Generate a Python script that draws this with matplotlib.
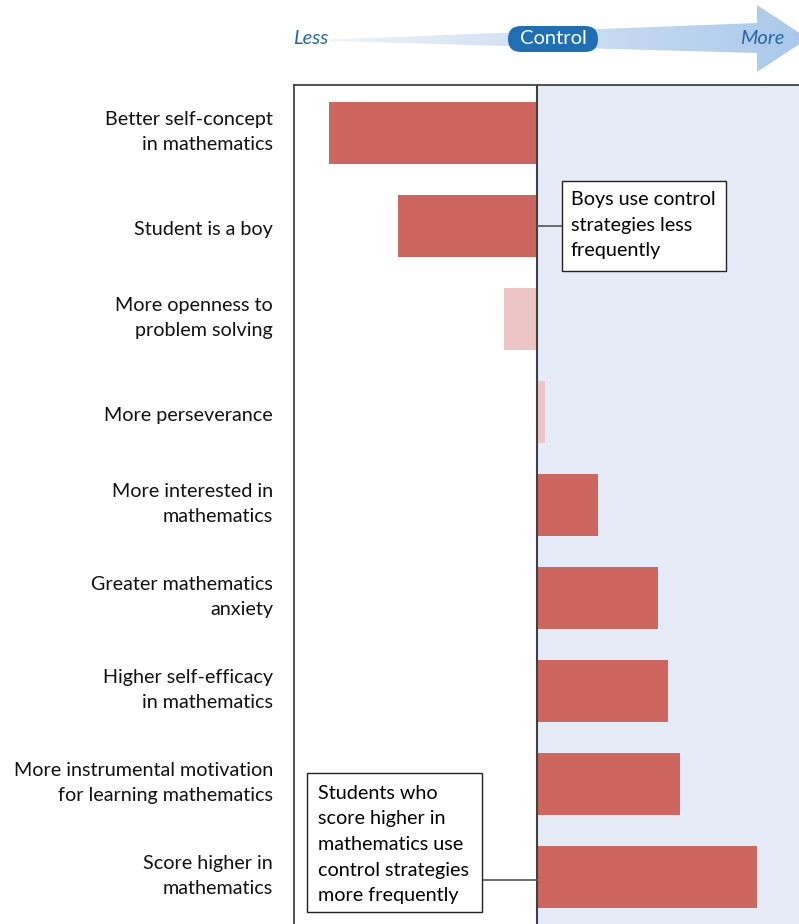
import numpy as np
import matplotlib.pyplot as plt
import matplotlib.transforms as mtransforms
from matplotlib.patches import Polygon, FancyBboxPatch, Rectangle
from matplotlib.colors import LinearSegmentedColormap

plt.rcParams['font.family'] = ['Lato', 'DejaVu Sans']

labels = ["Better self-concept\nin mathematics",
          "Student is a boy",
          "More openness to\nproblem solving",
          "More perseverance",
          "More interested in\nmathematics",
          "Greater mathematics\nanxiety",
          "Higher self-efficacy\nin mathematics",
          "More instrumental motivation\nfor learning mathematics",
          "Score higher in\nmathematics"]
values = [-2.08, -1.39, -0.33, 0.08, 0.61, 1.21, 1.31, 1.43, 2.20]
significant = [True, True, False, False, True, True, True, True, True]

dark_red = "#cc665f"
light_red = "#ecc5c4"
shade = "#e5ecf7"
fs = 14.2
ls = 1.62

W, H = 799, 924
fig = plt.figure(figsize=(W / 100, H / 100), dpi=100)

# main bar chart
ax = fig.add_axes([294 / W, 0, (800 - 294) / W, 1 - 85 / H])
y = np.arange(len(values))
cols = [dark_red if s else light_red for s in significant]
ax.axvspan(0, 3, color=shade, zorder=0)
ax.barh(y, values, height=0.67, color=cols, zorder=2)
ax.axvline(0, color="#404040", lw=1.5, zorder=3)
ax.set_xlim(-2.43, 2.63)
ax.set_ylim(8.505, -0.516)
ax.set_yticks(y)
ax.set_yticklabels(labels, fontsize=fs, color="#111111", linespacing=ls)
ax.tick_params(axis="y", length=0, pad=15)
ax.set_xticks([])
# two-line labels sit a little above the bar centre
for lab in ax.get_yticklabels():
    dy = 5 if "\n" in lab.get_text() else -1.5
    lab.set_transform(lab.get_transform() + mtransforms.ScaledTranslation(0, dy / 72, fig.dpi_scale_trans))
for s in ["right", "bottom"]:
    ax.spines[s].set_visible(False)
for s in ["left", "top"]:
    ax.spines[s].set_color("#333333")
    ax.spines[s].set_linewidth(1.2)

# annotation boxes
ax.add_patch(Rectangle((0.25, 0.516), 1.64, 0.968, fc="white", ec="#222222", lw=1, zorder=5))
ax.text(0.34, 0.99, "Boys use control\nstrategies less\nfrequently", fontsize=fs,
        va="center", ha="left", linespacing=ls, zorder=6)
ax.plot([0, 0.25], [1.0, 1.0], color="#555555", lw=1.2, zorder=4)

ax.add_patch(Rectangle((-2.30, 6.882), 1.75, 1.494, fc="white", ec="#222222", lw=1, zorder=5))
ax.text(-2.19, 7.65, "Students who\nscore higher in\nmathematics use\ncontrol strategies\nmore frequently",
        fontsize=fs, va="center", ha="left", linespacing=ls, zorder=6)
ax.plot([-0.55, 0], [8.03, 8.03], color="#555555", lw=1.2, zorder=4)

# top arrow
top = fig.add_axes([0, 1 - 85 / H, 1, 85 / H])
top.set_xlim(0, W)
top.set_ylim(85, 0)
top.axis("off")
arrow = Polygon([(330, 39.5), (757, 23), (757, 5), (808, 38.5), (757, 72), (757, 53), (330, 41)],
                closed=True, fc="none", ec="none")
top.add_patch(arrow)
grad = np.linspace(0, 1, 256).reshape(1, -1)
cmap = LinearSegmentedColormap.from_list("arr", ["#eef3fa", "#a9c8ea"])
im = top.imshow(grad, extent=[330, 808, 72, 5], cmap=cmap, aspect="auto", zorder=1)
im.set_clip_path(arrow)
pill = FancyBboxPatch((508, 26), 90, 26, boxstyle="round,pad=0,rounding_size=13",
                      fc="#1f6fb5", ec="none", zorder=3)
top.add_patch(pill)
top.text(553, 39, "Control", color="white", fontsize=14.5, ha="center", va="center", zorder=4)
top.text(311, 39, "Less", color="#2566a6", fontsize=14.5, style="italic", ha="center", va="center")
top.text(762, 39, "More", color="#2566a6", fontsize=14.5, style="italic", ha="center", va="center")

fig.savefig("out.png", dpi=100)
